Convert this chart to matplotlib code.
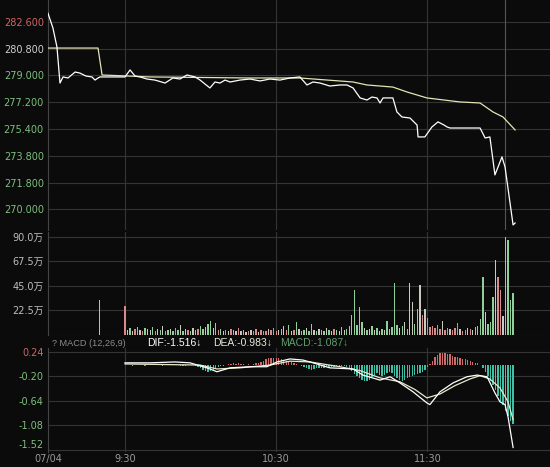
import matplotlib
matplotlib.use("Agg")
import matplotlib.pyplot as plt
import numpy as np

# ---------------- data ----------------
# minute index: 0 = 9:30 (negative values = pre-market)
price_t = [-30.6, -28.6, -27.0, -25.8, -24.6, -22.6, -19.8, -17.9, -15.5, -13.1, -11.9, -10.7, -9.9,
           -6.0, 0.0, 2.0, 4.0, 6.0, 8.7, 11.9, 15.9, 19.0, 21.8, 24.6, 27.8, 29.8, 31.7, 33.7,
           35.7, 37.7, 39.7, 41.7, 45.6, 49.6, 53.6, 57.5, 61.5, 65.5, 69.4, 72.2, 74.6, 77.4,
           81.3, 85.3, 88.1, 90.5, 93.3, 96.0, 98.0, 100.0, 101.2, 102.4, 106.3, 107.9, 109.9,
           113.1, 115.9, 116.3, 119.0, 121.8, 124.2, 126.6, 127.8, 129.0, 140.9, 142.9, 144.8,
           146.8, 149.6, 150.8, 154.0, 154.8]
price = [283.18, 282.18, 280.90, 278.48, 278.89, 278.82, 279.22, 279.15, 278.95, 278.89, 278.68, 278.82, 278.89,
         278.89, 278.89, 279.36, 278.95, 278.89, 278.75, 278.68, 278.48, 278.82, 278.75, 279.02, 278.89, 278.68, 278.42, 278.15,
         278.55, 278.48, 278.68, 278.55, 278.68, 278.75, 278.62, 278.75, 278.68, 278.82, 278.89, 278.35, 278.55, 278.48,
         278.28, 278.35, 278.35, 278.15, 277.48, 277.34, 277.54, 277.48, 277.14, 277.48, 277.48, 276.54, 276.20,
         276.13, 275.66, 274.86, 274.86, 275.53, 275.87, 275.66, 275.53, 275.46, 275.46, 274.79, 274.86,
         272.31, 273.52, 272.85, 268.95, 269.08]

avg_t = [-30.6, -10.7, -9.1, 9.9, 49.6, 69.4, 90.5, 96.0, 106.3, 111.9, 119.8, 132.9, 140.9, 146.0, 150.0, 154.8]
avg_price = [280.83, 280.83, 279.02, 278.89, 278.82, 278.82, 278.55, 278.35, 278.21, 277.88, 277.48, 277.21,
             277.14, 276.54, 276.20, 275.33]

auction_t = -10
auction_vol = 32

volume = [26, 4, 6, 3, 5, 7, 4, 3, 6, 5,
          4, 7, 3, 5, 4, 8, 3, 4, 5, 3,
          6, 4, 9, 3, 5, 4, 3, 6, 4, 5,
          8, 5, 7, 10, 13, 6, 11, 4, 5, 3,
          4, 3, 5, 4, 3, 6, 3, 4, 2, 3,
          4, 3, 5, 2, 4, 3, 3, 5, 4, 6,
          3, 4, 5, 8, 4, 9, 3, 4, 12, 5,
          3, 4, 6, 3, 10, 4, 3, 5, 4, 3,
          6, 4, 3, 5, 4, 3, 7, 4, 5, 8,
          18, 41, 9, 25, 12, 6, 4, 5, 8, 4,
          6, 3, 5, 4, 13, 5, 7, 48, 9, 6,
          8, 12, 5, 48, 30, 10, 24, 46, 18, 24,
          15, 7, 8, 6, 9, 5, 13, 4, 6, 5,
          4, 6, 11, 5, 3, 4, 6, 5, 4, 7,
          8, 14, 53, 21, 10, 12, 35, 69, 53, 41,
          17, 90, 87, 32, 38]
vol_dir = ("rngnrgnrgn" "ngrngnrgng" "rgngnrgngr" "ggnggngrgn" "rnrgnrngnr"
           "nrrnrrrnrr" "rngnrgnrgn" "ggnggngngg" "ngnrgngngg" "gggggngngn"
           "gngngggggn" "gngnnggnrn" "rrrrrrnrrn" "rrrnrrnrng" "gggngggnrr" "ngggg")

macd_hist = [0.01, 0.01, 0.0, -0.01, 0.01, 0.01, 0.0, 0.01, -0.01, 0.0,
             0.01, 0.01, 0.02, 0.01, 0.0, -0.01, 0.01, 0.02, 0.01, 0.0,
             0.01, 0.0, -0.01, -0.02, -0.01, 0.0, 0.01, 0.0, -0.02, -0.03,
             -0.05, -0.08, -0.10, -0.12, -0.11, -0.09, -0.06, -0.04, -0.02, -0.01,
             0.01, 0.02, 0.02, 0.03, 0.02, 0.03, 0.02, 0.02, 0.01, 0.02,
             0.01, 0.02, 0.03, 0.04, 0.06, 0.08, 0.10, 0.12, 0.13, 0.12,
             0.13, 0.12, 0.10, 0.09, 0.08, 0.06, 0.05, 0.03, 0.02, 0.0,
             -0.02, -0.04, -0.06, -0.07, -0.08, -0.07, -0.06, -0.05, -0.06, -0.05,
             -0.04, -0.05, -0.04, -0.03, -0.02, -0.03, -0.02, -0.01, -0.03, -0.06,
             -0.10, -0.16, -0.20, -0.24, -0.27, -0.29, -0.28, -0.26, -0.22, -0.18,
             -0.15, -0.18, -0.20, -0.17, -0.14, -0.12, -0.15, -0.20, -0.24, -0.27,
             -0.28, -0.26, -0.24, -0.22, -0.20, -0.18, -0.16, -0.14, -0.12, -0.08,
             -0.04, 0.02, 0.08, 0.14, 0.18, 0.21, 0.22, 0.21, 0.20, 0.19,
             0.17, 0.15, 0.14, 0.12, 0.11, 0.10, 0.09, 0.07, 0.05, 0.03,
             0.03, 0.0, -0.05, -0.12, -0.20, -0.28, -0.36, -0.45, -0.55, -0.64,
             -0.72, -0.82, -0.92, -1.00, -1.06]

dif_t = [0, 9.9, 19.8, 25.8, 32.5, 36.5, 41.7, 49.6, 56.3, 60.3, 65.5, 70.6, 74.6, 81.3, 90.5, 94.4,
         101.2, 105.2, 109.1, 114.3, 119.8, 121.0, 125.0, 130.2, 135.7, 139.7, 143.7, 146.8, 148.8,
         150.8, 152.0, 154.0]
dif = [0.04, 0.04, 0.056, 0.04, -0.05, -0.12, -0.05, -0.03, -0.03, 0.056, 0.11, 0.09, 0.04, -0.05, -0.07, -0.18,
       -0.27, -0.21, -0.32, -0.48, -0.68, -0.71, -0.48, -0.32, -0.21, -0.18, -0.21, -0.50, -0.66,
       -0.71, -0.93, -1.48]
dea_t = [0, 29.8, 36.5, 45.6, 57.5, 65.5, 73.4, 85.3, 93.3, 101.2, 109.1, 115.1, 119.8, 125.0, 130.9,
         136.9, 140.9, 144.8, 148.8, 152.0, 154.0]
dea = [0.02, 0.0, -0.07, -0.05, 0.0, 0.07, 0.056, -0.03, -0.10, -0.23, -0.30, -0.44, -0.59, -0.52, -0.37,
       -0.25, -0.19, -0.25, -0.41, -0.66, -0.98]

price_ticks = [282.6, 280.8, 279.0, 277.2, 275.4, 273.6, 271.8, 270.0]
price_tick_labels = ["282.600", "280.800", "279.000", "277.200", "275.400", "273.800", "271.800", "270.000"]
vol_ticks = [90.0, 67.5, 45.0, 22.5]
vol_tick_labels = ["90.0万", "67.5万", "45.0万", "22.5万"]
macd_ticks = [0.24, -0.20, -0.64, -1.08, -1.52]
macd_tick_labels = ["0.24", "-0.20", "-0.64", "-1.08", "-1.52"]
x_ticks = [-30.6, 0, 60, 120]
x_tick_labels = ["07/04", "9:30", "10:30", "11:30"]

# ---------------- style ----------------
W, H = 550, 467
BG = "#0b0b0b"
GRID = "#343434"
RED_TXT = "#d06565"
GREEN_TXT = "#7dbf7d"
GREY_TXT = "#bdbdbd"
plt.rcParams['font.family'] = ['DejaVu Sans', 'Noto Sans CJK SC']
HDR_FONT = ['Liberation Sans', 'DejaVu Sans']

fig = plt.figure(figsize=(W / 100, H / 100), dpi=100, facecolor=BG)

X0 = 48
PX_PER_MIN = 2.52
X_930 = 125
xmin = (X0 - X_930) / PX_PER_MIN
xmax = (W - X_930) / PX_PER_MIN


def add_ax(top, bottom):
    ax = fig.add_axes([X0 / W, 1 - bottom / H, (W - X0) / W, (bottom - top) / H])
    ax.set_facecolor(BG)
    for s in ax.spines.values():
        s.set_visible(False)
    ax.spines['left'].set_visible(True)
    ax.spines['left'].set_color("#444444")
    ax.set_xlim(xmin, xmax)
    ax.set_xticks([])
    ax.tick_params(axis='y', length=0, pad=3, labelsize=7)
    for xv in [0, 60, 120]:
        ax.axvline(xv, color=GRID, lw=0.8, zorder=0)
    return ax


def val_range(top_px, bottom_px, ref_px, ref_val, per_px):
    return ref_val - (bottom_px - ref_px) * per_px, ref_val + (ref_px - top_px) * per_px

# price panel
axp = add_ax(0, 230)
lo, hi = val_range(0, 230, 21.7, 282.6, 1.8 / 26.8)
axp.set_ylim(lo, hi)
axp.set_yticks(price_ticks)
axp.set_yticklabels(price_tick_labels)
for v in price_ticks:
    axp.axhline(v, color=GRID, lw=0.8, zorder=0)
cols = [RED_TXT, "#cfcfcf"] + [GREEN_TXT] * 6
for lab, c in zip(axp.get_yticklabels(), cols):
    lab.set_color(c)
axp.axvline(150.8, color="#555555", lw=0.8, zorder=0)
axp.plot(avg_t, avg_price, color="#e3e3b5", lw=0.9, zorder=3)
axp.plot(price_t, price, color="#ffffff", lw=0.9, zorder=4)

# volume panel
axv = add_ax(232, 334.5)
lo, hi = val_range(232, 334.5, 237, 90.0, 22.5 / 24.4)
axv.set_ylim(lo, hi)
axv.set_yticks(vol_ticks)
axv.set_yticklabels(vol_tick_labels)
for lab in axv.get_yticklabels():
    lab.set_color(GREY_TXT)
for v in vol_ticks + [0]:
    axv.axhline(v, color=GRID, lw=0.8, zorder=0)
cmap = {'r': '#d98a8a', 'g': '#8fd09a', 'n': '#c9c9c0'}
vt = np.arange(len(volume))
axv.bar(vt, volume, width=0.55, color=[cmap[c] for c in vol_dir], zorder=3, linewidth=0)
axv.bar([auction_t], [auction_vol], width=0.55, color='#d9b0b0', zorder=3, linewidth=0)

# MACD panel
axm = add_ax(348, 452)
lo, hi = val_range(348, 452, 351.7, 0.24, 0.44 / 24.5)
axm.set_ylim(lo, hi)
axm.set_yticks(macd_ticks)
axm.set_yticklabels(macd_tick_labels)
for v in macd_ticks:
    axm.axhline(v, color=GRID, lw=0.8, zorder=0)
mlabels = axm.get_yticklabels()
for lab, c in zip(mlabels, [RED_TXT] + [GREEN_TXT] * 4):
    lab.set_color(c)
mlabels[-1].set_va('bottom')
mt = np.arange(len(macd_hist))
hcols = ['#d06a6a' if v >= 0 else '#3fbfa6' for v in macd_hist]
axm.bar(mt, macd_hist, width=0.55, color=hcols, zorder=2, linewidth=0)
axm.plot(dea_t, dea, color="#e8e8c8", lw=0.9, zorder=3)
axm.plot(dif_t, dif, color="#ffffff", lw=0.9, zorder=4)

# MACD header
hy = 1 - 343 / H
fig.text(52 / W, hy, "? MACD (12,26,9)", color="#8c8c8c", fontsize=6.6, va='center', ha='left',
         family=HDR_FONT)
fig.text(147 / W, hy, "DIF:-1.516↓", color="#ffffff", fontsize=7.5, va='center', ha='left',
         family=HDR_FONT)
fig.text(213 / W, hy, "DEA:-0.983↓", color="#e8e8d8", fontsize=7.5, va='center', ha='left',
         family=HDR_FONT)
fig.text(280 / W, hy, "MACD:-1.087↓", color="#5e9e6e", fontsize=7.5, va='center', ha='left',
         family=HDR_FONT)

# x labels
for t, lab in zip(x_ticks, x_tick_labels):
    px = X_930 + t * PX_PER_MIN
    fig.text(px / W, 1 - 459 / H, lab, color="#9a9a9a", fontsize=7, ha='center', va='center')

fig.savefig("out.png", dpi=100, facecolor=BG)
